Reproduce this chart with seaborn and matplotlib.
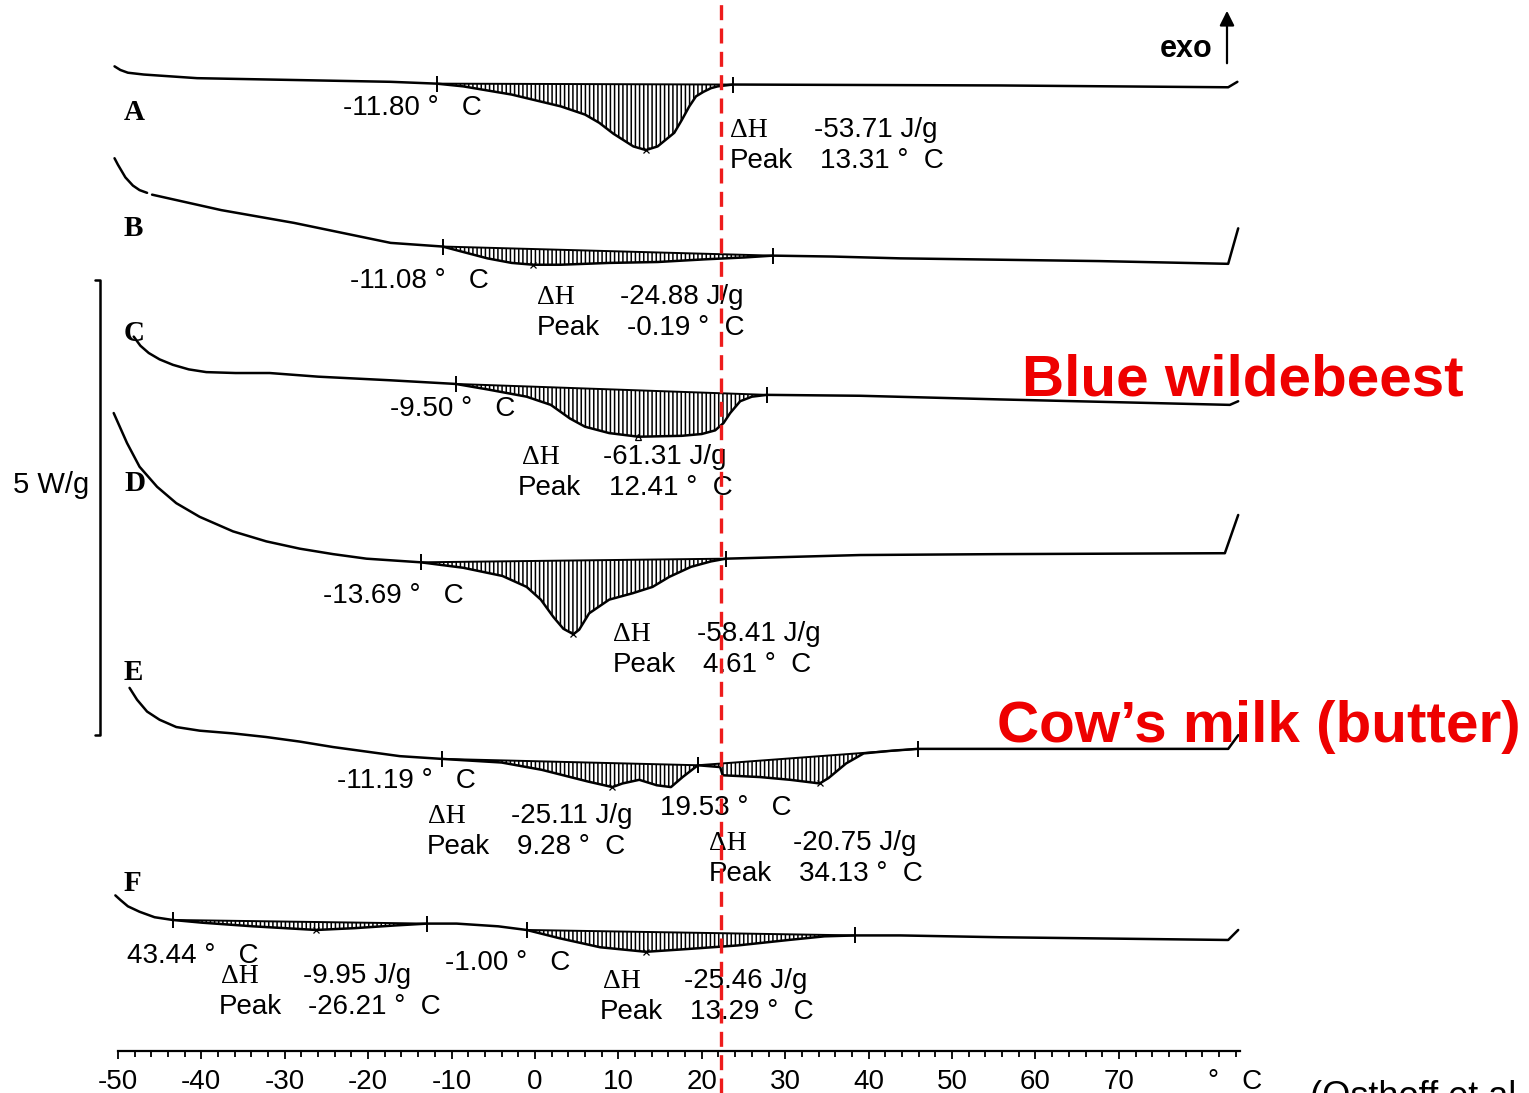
import numpy as np
import matplotlib.pyplot as plt
import seaborn as sns

# DSC thermograms: temperature (deg C) vs heat flow (W/g), curves stacked with offsets
A_T = [-50.4, -49.7, -48.8, -46.9, -40.5, -28.9, -17.3, -11.8, -8.6, -2.8, 3.1, 6.0, 7.7, 9.4, 10.6, 11.8,
       13.3, 14.7, 16.7, 17.6, 18.5, 19.3, 20.2, 21.1, 21.9, 23.7, 55.7, 83.1, 84.2]
A_y = [10.82, 10.78, 10.75, 10.73, 10.69, 10.67, 10.65, 10.63, 10.60, 10.51, 10.38, 10.29, 10.20, 10.08, 10.01, 9.94,
       9.90, 9.94, 10.09, 10.23, 10.38, 10.49, 10.54, 10.58, 10.60, 10.62, 10.61, 10.59, 10.65]

B_head_T = [-50.4, -50.0, -49.1, -48.2, -47.4, -46.5]
B_head_y = [9.81, 9.74, 9.60, 9.51, 9.46, 9.43]
B_T = [-45.9, -37.6, -28.9, -23.1, -17.3, -11.08, -8.6, -5.7, -2.8, -0.19, 3.1, 8.9, 14.7, 20.5, 25.1,
       28.5, 35.6, 43.8, 67.7, 83.1, 84.3]
B_y = [9.41, 9.24, 9.10, 8.99, 8.88, 8.84, 8.78, 8.71, 8.66, 8.64, 8.64, 8.66, 8.67, 8.70, 8.72,
       8.74, 8.73, 8.71, 8.68, 8.65, 9.04]

C_T = [-48.1, -47.3, -46.3, -45.0, -43.4, -41.5, -39.4, -35.9, -31.8, -26.0, -17.3, -9.5, -5.7, -1.0, 1.9,
       4.2, 6.0, 8.9, 12.41, 17.6, 20.0, 21.6, 22.6, 23.4, 24.6, 26.0, 27.8, 39.0, 55.7, 83.3, 84.3]
C_y = [7.85, 7.75, 7.67, 7.60, 7.54, 7.49, 7.46, 7.45, 7.45, 7.41, 7.37, 7.33, 7.27, 7.19, 7.10,
       6.95, 6.86, 6.79, 6.75, 6.76, 6.78, 6.82, 6.90, 7.01, 7.14, 7.19, 7.21, 7.20, 7.16, 7.10, 7.14]

D_T = [-50.5, -48.9, -47.4, -45.3, -43.0, -40.2, -36.2, -32.2, -28.2, -24.2, -20.2, -13.69, -8.6, -3.9,
       -1.0, 0.7, 2.2, 3.4, 4.61, 5.3, 6.5, 8.9, 11.7, 14.1, 16.1, 18.7, 21.1, 22.9, 39.0, 55.7, 82.7, 84.3]
D_y = [7.01, 6.68, 6.42, 6.20, 6.02, 5.87, 5.71, 5.60, 5.52, 5.46, 5.41, 5.37, 5.31, 5.22,
       5.10, 4.96, 4.77, 4.64, 4.58, 4.63, 4.81, 4.96, 5.03, 5.10, 5.21, 5.32, 5.38, 5.41, 5.45, 5.46, 5.47, 5.89]

E_T = [-48.6, -47.7, -46.5, -45.0, -43.0, -40.2, -36.2, -32.2, -28.2, -24.2, -20.2, -16.2, -11.19, -4.0,
       0.8, 6.4, 9.28, 10.5, 12.5, 14.6, 16.3, 17.7, 19.53, 22.2, 22.5, 27.0, 30.6, 34.13, 35.2, 37.3,
       39.4, 42.8, 45.9, 55.7, 83.1, 84.3]
E_y = [3.99, 3.86, 3.73, 3.64, 3.56, 3.52, 3.49, 3.45, 3.40, 3.34, 3.29, 3.24, 3.21, 3.17,
       3.09, 2.96, 2.90, 2.94, 2.98, 2.92, 2.90, 3.01, 3.14, 3.12, 3.03, 3.01, 2.98, 2.94, 3.00, 3.16,
       3.27, 3.30, 3.32, 3.32, 3.32, 3.47]

F_T = [-50.3, -49.7, -48.8, -47.4, -45.6, -43.44, -39.9, -33.8, -26.21, -21.6, -16.7, -12.9, -9.4, -4.4,
       -1.0, 2.9, 7.8, 13.29, 18.2, 24.3, 30.4, 34.7, 38.4, 43.8, 55.7, 83.1, 84.3]
F_y = [1.71, 1.66, 1.59, 1.53, 1.47, 1.44, 1.41, 1.37, 1.33, 1.35, 1.38, 1.40, 1.40, 1.37,
       1.33, 1.24, 1.14, 1.09, 1.12, 1.16, 1.22, 1.26, 1.27, 1.27, 1.25, 1.22, 1.33]

curve_names = ["A", "B", "C", "D", "E", "F"]
curves = {"A": (A_T, A_y), "B": (B_T, B_y), "C": (C_T, C_y),
          "D": (D_T, D_y), "E": (E_T, E_y), "F": (F_T, F_y)}

# integrated melting peaks
peak_curve = ["A", "B", "C", "D", "E", "E", "F", "F"]
peak_onset = [-11.80, -11.08, -9.50, -13.69, -11.19, 19.53, -43.44, -1.00]
peak_end = [23.7, 28.5, 27.8, 22.9, 19.53, 45.9, -12.9, 38.4]
peak_max = [13.31, -0.19, 12.41, 4.61, 9.28, 34.13, -26.21, 13.29]
peak_dH = [-53.71, -24.88, -61.31, -58.41, -25.11, -20.75, -9.95, -25.46]
onset_text = ["-11.80", "-11.08", "-9.50", "-13.69", "-11.19", "19.53", "43.44", "-1.00"]

x_major = [-50, -40, -30, -20, -10, 0, 10, 20, 30, 40, 50, 60, 70]
x_labels = ["-50", "-40", "-30", "-20", "-10", "0", "10", "20", "30", "40", "50", "60", "70"]
ref_temp = 22.3   # red reference line

# label placement (figure pixels: x, baseline from top)
letter_pos = [(124, 120), (124, 236), (124, 341), (124, 491), (124, 680), (124, 891)]
onset_pos = [(343, 115), (350, 288), (390, 416), (323, 603), (337, 788), (660, 815), (127, 963), (445, 970)]
dh_pos = [(730, 137), (537, 304), (522, 464), (613, 641), (428, 823), (709, 850), (221, 983), (603, 988)]
dh_val_x = [814, 620, 603, 697, 511, 793, 303, 684]
pk_x = [730, 537, 518, 613, 427, 709, 219, 600]
pk_val_x = [820, 627, 609, 703, 517, 799, 308, 690]

W, H = 1529, 1093
sns.set_theme(style="white")
plt.rcParams["font.family"] = ["Liberation Sans", "DejaVu Sans"]
plt.rcParams["text.color"] = "black"
plt.rcParams["hatch.linewidth"] = 1.1

fig = plt.figure(figsize=(W / 100, H / 100), dpi=100)
ax = fig.add_axes([0, 0, 1, 1])
ax.set_xlim(-64.13, 119.16)
ax.set_ylim(-0.4615, 11.549)


def put(px, py, s, **kw):
    kw.setdefault("fontsize", 20)
    ha = kw.pop("ha", "left")
    ax.annotate(s, xy=(px, H - py), xycoords="figure pixels", ha=ha, va="baseline",
                annotation_clip=False, color=kw.pop("color", "black"), **kw)


# curves
sns.lineplot(x=B_head_T, y=B_head_y, ax=ax, color="black", linewidth=1.8, sort=False, estimator=None)
for name in curve_names:
    T, y = curves[name]
    sns.lineplot(x=T, y=y, ax=ax, color="black", linewidth=1.8, sort=False, estimator=None)

# hatched peak areas, baselines, limit and peak markers
for i, name in enumerate(peak_curve):
    T, y = curves[name]
    t0, t1 = peak_onset[i], peak_end[i]
    y0, y1 = np.interp([t0, t1], T, y)
    tt = np.array([t for t in T if t0 <= t <= t1])
    yy = np.interp(tt, T, y)
    base = np.interp(tt, [t0, t1], [y0, y1])
    ax.fill_between(tt, base, yy, facecolor="none", edgecolor="black", hatch="||||", linewidth=0)
    ax.plot([t0, t1], [y0, y1], color="black", lw=1.4)
    ax.plot([t0, t1], [y0, y1], ls="none", marker="|", ms=12, mew=1.4, color="black")
    mk = "^" if name == "C" else "x"
    ax.plot(peak_max[i], np.interp(peak_max[i], T, y), marker=mk, ms=4, mew=0.9,
            mfc="none", color="black")

    put(*onset_pos[i], f"{onset_text[i]} °   C")
    dx, db = dh_pos[i]
    put(dx, db, "ΔH", family=["Liberation Serif"])
    put(dh_val_x[i], db, f"{peak_dH[i]:.2f} J/g")
    put(pk_x[i], db + 31, "Peak")
    put(pk_val_x[i], db + 31, f"{peak_max[i]:.2f} °  C")

for name, (px, py) in zip(curve_names, letter_pos):
    put(px, py, name, family=["Liberation Serif"], fontweight="bold", fontsize=21)

# reference temperature
ax.axvline(ref_temp, color="#ee1c1c", lw=2.4, ls=(0, (4.5, 2.5)), zorder=5)

# 5 W/g scale bar
bar_x, bar_top = -52.15, 8.47
ax.plot([bar_x - 0.6, bar_x, bar_x, bar_x - 0.6], [bar_top, bar_top, bar_top - 5, bar_top - 5],
        color="black", lw=1.8)
put(13, 493, "5 W/g", fontsize=21)

# exo arrow
ax.annotate("", xy=(1227, H - 8), xytext=(1227, H - 66), xycoords="figure pixels",
            arrowprops=dict(arrowstyle="-|>", lw=1.6, color="black", mutation_scale=22))
put(1160, 57, "exo", fontweight="bold", fontsize=22)

put(1022, 395, "Blue wildebeest", color="#ee0000", fontweight="bold", fontsize=42)
put(997, 742, "Cow’s milk (butter)", color="#ee0000", fontweight="bold", fontsize=42)
put(1310, 1107, "(Osthoff et al., 2009)", fontsize=26)

# temperature axis
for s in ["left", "right", "top"]:
    ax.spines[s].set_visible(False)
ax.spines["bottom"].set_position(("data", 0))
ax.spines["bottom"].set_bounds(-50, 84.5)
ax.spines["bottom"].set_linewidth(1.6)
ax.spines["bottom"].set_color("black")
ax.set_xticks(x_major, labels=x_labels)
ax.set_xticks(np.arange(-50, 85, 2), minor=True)
ax.tick_params(axis="x", which="both", bottom=True, direction="out", color="black",
               width=1.3, labelsize=20, pad=7, labelcolor="black")
ax.tick_params(axis="x", which="major", length=6)
ax.tick_params(axis="x", which="minor", length=4)
ax.set_yticks([])
ax.set_xlabel("")
ax.set_ylabel("")
put(1208, 1089, "°   C")

fig.savefig("out.png", dpi=100)
